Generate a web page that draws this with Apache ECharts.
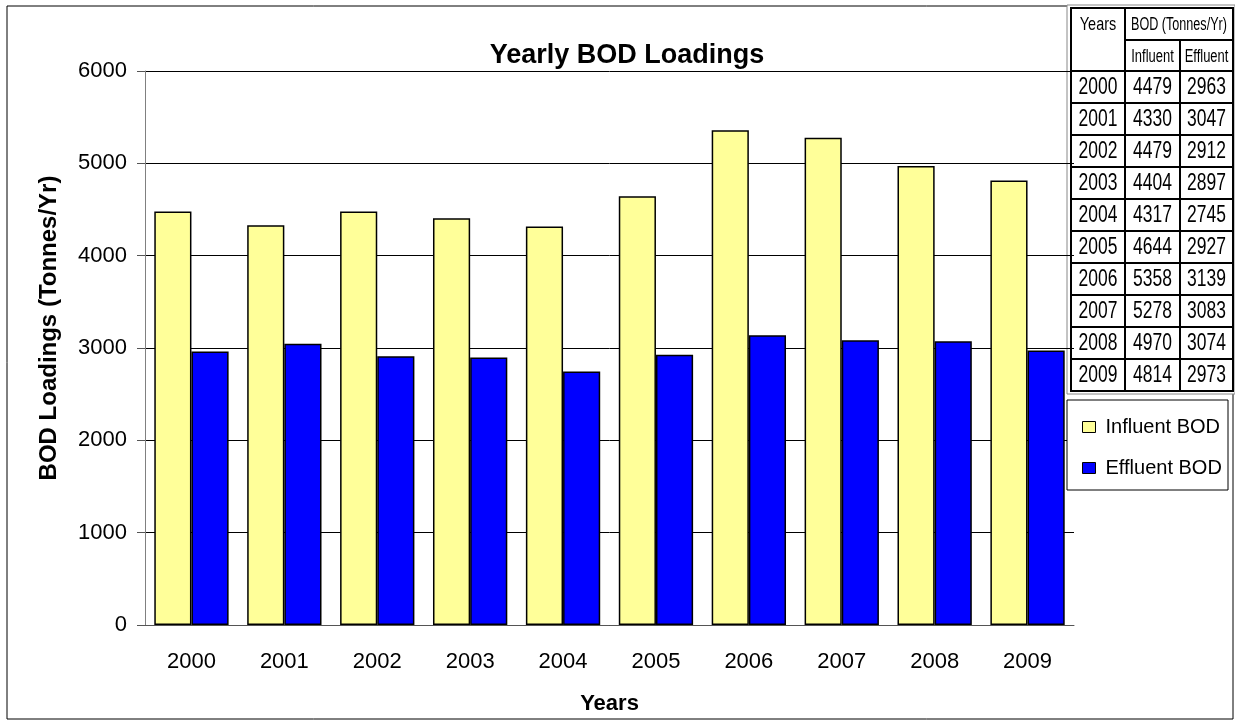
<!DOCTYPE html>
<html>
<head>
<meta charset="utf-8">
<title>Yearly BOD Loadings</title>
<script src="https://cdn.jsdelivr.net/npm/echarts@6/dist/echarts.min.js"></script>
<style>
  html, body { margin: 0; padding: 0; background: #fff; }
  #myChart { width: 1235px; height: 723px; }
</style>
</head>
<body>
<div id="myChart"></div>
<script>
var years = ['2000', '2001', '2002', '2003', '2004', '2005', '2006', '2007', '2008', '2009']
var influent = [4479, 4330, 4479, 4404, 4317, 4644, 5358, 5278, 4970, 4814]
var effluent = [2963, 3047, 2912, 2897, 2745, 2927, 3139, 3083, 3074, 2973]
var yTicks = [0, 1000, 2000, 3000, 4000, 5000, 6000]

var FONT = 'Liberation Sans, Arial, sans-serif'

// table in the top right corner (drawn with graphic elements)
function buildTable() {
  var x0 = 1071, x1 = 1125, x2 = 1180, x3 = 1233
  var top = 8, hdr = 40, body = 71, rowH = 32
  var bottom = body + rowH * years.length
  var els = []
  // white back + double border
  els.push({ type: 'rect', shape: { x: 1067, y: 5, width: 168, height: bottom - 5 + 3 },
    style: { fill: '#fff', stroke: '#888', lineWidth: 1 } })
  els.push({ type: 'rect', shape: { x: x0, y: top, width: x3 - x0, height: bottom - top },
    style: { fill: '#fff', stroke: '#000', lineWidth: 2 } })
  var line = function (ax, ay, bx, by) {
    els.push({ type: 'line', shape: { x1: ax, y1: ay, x2: bx, y2: by }, style: { stroke: '#000', lineWidth: 2 } })
  }
  line(x1, top, x1, bottom)
  line(x2, hdr, x2, bottom)
  line(x1, hdr, x3, hdr)
  for (var i = 0; i < years.length; i++) {
    line(x0, body + i * rowH, x3, body + i * rowH)
  }
  var txt = function (t, cx, cy, size, sx) {
    els.push({ type: 'text', x: cx, y: cy, scaleX: sx || 0.76,
      style: { text: t, fill: '#000', font: size + 'px ' + FONT, textAlign: 'center', textVerticalAlign: 'middle' } })
  }
  txt('Years', (x0 + x1) / 2, 25, 19)
  txt('BOD (Tonnes/Yr)', (x1 + x3) / 2, 25, 18, 0.7)
  txt('Influent', (x1 + x2) / 2, 57, 18, 0.72)
  txt('Effluent', (x2 + x3) / 2, 57, 18, 0.72)
  for (var j = 0; j < years.length; j++) {
    var cy = body + j * rowH + rowH / 2 + 1
    txt(years[j], (x0 + x1) / 2, cy, 23)
    txt(String(influent[j]), (x1 + x2) / 2, cy, 23)
    txt(String(effluent[j]), (x2 + x3) / 2, cy, 23)
  }
  return els
}

var myChart = echarts.init(document.getElementById('myChart'))
myChart.setOption({
  backgroundColor: '#fff',
  animation: false,
  textStyle: { fontFamily: FONT },
  title: {
    text: 'Yearly BOD Loadings',
    left: 622,
    top: 37,
    textAlign: 'center',
    textStyle: { fontSize: 27, fontWeight: 'bold', color: '#000', fontFamily: FONT }
  },
  grid: { left: 145, right: 161, top: 71, bottom: 98 },
  legend: {
    orient: 'vertical',
    left: 1077,
    top: 412,
    itemWidth: 13,
    itemHeight: 11,
    itemGap: 21,
    icon: 'rect',
    itemStyle: { borderColor: '#000', borderWidth: 1 },
    textStyle: { fontSize: 20, color: '#000', lineHeight: 20, padding: [0, 0, 0, 5] },
    data: ['Influent BOD', 'Effluent BOD']
  },
  xAxis: [
    {
      type: 'category',
      data: years,
      name: 'Years',
      nameLocation: 'middle',
      nameGap: 68,
      nameTextStyle: { fontSize: 22, fontWeight: 'bold', color: '#000' },
      axisLine: { lineStyle: { color: '#555', width: 1 } },
      axisTick: { length: 8, lineStyle: { color: '#555' } },
      axisLabel: { fontSize: 22, color: '#000', margin: 26 }
    },
    {
      // second axis only for the inner half of the cross ticks
      type: 'category',
      data: years,
      position: 'bottom',
      axisLine: { show: false },
      axisTick: { inside: true, length: 8, lineStyle: { color: '#555' } },
      axisLabel: { show: false }
    }
  ],
  yAxis: {
    type: 'value',
    min: yTicks[0],
    max: yTicks[yTicks.length - 1],
    interval: 1000,
    name: 'BOD Loadings (Tonnes/Yr)',
    nameLocation: 'middle',
    nameGap: 84,
    nameTextStyle: { fontSize: 24, fontWeight: 'bold', color: '#000', padding: [0, 0, 0, 40] },
    axisLine: { show: true, lineStyle: { color: '#808080' } },
    axisTick: { show: true, length: 8, lineStyle: { color: '#555' } },
    axisLabel: { fontSize: 22, color: '#000', margin: 18, formatter: function (v) { return String(v) } },
    splitLine: { lineStyle: { color: '#000', width: 1 } }
  },
  series: [
    {
      name: 'Influent BOD',
      type: 'bar',
      data: influent,
      barGap: 0,
      barCategoryGap: '20%',
      itemStyle: { color: '#FFFF99', borderColor: '#000', borderWidth: 1.5 }
    },
    {
      name: 'Effluent BOD',
      type: 'bar',
      data: effluent,
      barGap: 0,
      barCategoryGap: '20%',
      itemStyle: { color: '#0000FF', borderColor: '#000', borderWidth: 1.5 }
    }
  ],
  graphic: [
    // outer chart border
    { type: 'rect', z: 0, silent: true, shape: { x: 7, y: 6, width: 1226, height: 713 },
      style: { fill: 'none', stroke: '#000', lineWidth: 1 } },
    // legend box
    { type: 'rect', z: 1, silent: true, shape: { x: 1067, y: 400, width: 161, height: 90 },
      style: { fill: '#fff', stroke: '#000', lineWidth: 1 } },
    { type: 'group', z: 100, children: buildTable() }
  ]
})
</script>
</body>
</html>
